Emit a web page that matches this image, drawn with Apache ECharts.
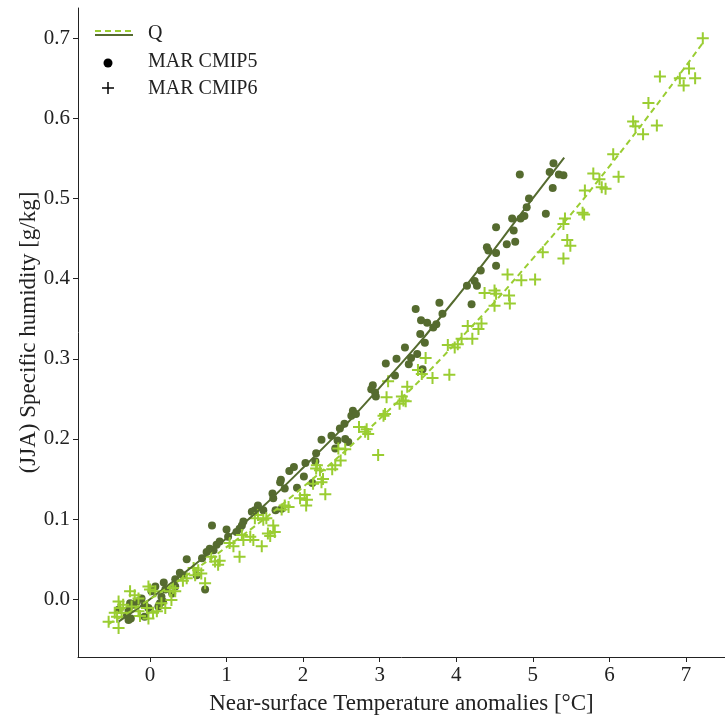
<!DOCTYPE html>
<html>
<head>
<meta charset="utf-8">
<script src="https://cdn.jsdelivr.net/npm/echarts@6/dist/echarts.min.js"></script>
<style>
  html, body { margin: 0; padding: 0; background: #fff; }
  #chart { width: 725px; height: 720px; }
</style>
</head>
<body>
<div id="chart"></div>
<script>
// Near-surface temperature anomaly (°C) vs JJA specific humidity anomaly (g/kg)

// MAR forced by CMIP5 models
const cmip5T = [5.27,4.83,5.22,5.34,5.40,5.26,4.95,4.92,5.17,4.73,4.84,4.89,4.52,4.75,4.40,4.42,4.66,4.77,4.52,4.52,4.32,4.14,4.24,4.27,4.20,
  3.78,3.47,3.82,3.54,3.62,3.74,3.70,3.53,3.59,3.33,3.49,3.41,3.22,3.08,3.38,3.56,3.20,2.91,2.89,2.94,2.95,2.65,2.63,2.69,2.54,2.48,2.37,2.45,2.55,2.59,2.42,
  2.24,2.17,1.82,1.88,2.03,2.16,2.01,1.71,1.70,1.76,1.92,2.12,1.60,1.61,1.41,1.37,1.33,1.48,1.64,1.72,1.22,1.20,0.81,1.00,1.17,1.13,1.02,0.91,0.87,0.78,0.83,0.74,
  0.48,0.68,0.39,0.43,0.33,0.18,0.61,0.72,0.07,0.02,0.20,0.15,0.17,0.29,0.33,-0.11,-0.17,-0.22,-0.26,-0.28,-0.30,-0.25,-0.28,-0.07,0.11,0.13,-0.02,-0.07,-0.41];
const cmip5Q = [0.544,0.530,0.533,0.530,0.529,0.513,0.500,0.489,0.481,0.475,0.475,0.478,0.464,0.460,0.439,0.435,0.443,0.446,0.432,0.416,0.410,0.391,0.397,0.391,0.368,
  0.370,0.362,0.356,0.348,0.345,0.343,0.339,0.331,0.320,0.314,0.306,0.301,0.300,0.294,0.293,0.287,0.279,0.267,0.262,0.258,0.253,0.235,0.229,0.231,0.219,0.213,0.204,0.198,0.200,0.196,0.188,
  0.199,0.182,0.160,0.165,0.170,0.172,0.153,0.149,0.146,0.138,0.139,0.145,0.132,0.126,0.117,0.111,0.109,0.111,0.111,0.113,0.097,0.092,0.092,0.087,0.088,0.084,0.078,0.072,0.068,0.063,0.061,0.059,
  0.050,0.051,0.033,0.030,0.025,0.021,0.030,0.012,0.016,0.010,0.012,0.003,-0.003,0.007,0.016,0.001,-0.003,-0.007,-0.005,-0.013,-0.020,-0.024,-0.026,-0.022,-0.009,-0.005,-0.011,-0.007,-0.013];

// MAR forced by CMIP6 models
const cmip6T = [7.22,6.66,7.04,6.92,7.12,6.97,6.51,6.31,6.34,6.62,6.44,6.05,5.79,5.87,6.12,5.90,5.95,5.68,5.65,5.67,5.42,5.40,5.45,5.49,5.13,5.40,
  4.67,4.85,5.03,4.37,4.50,4.52,4.69,4.70,4.50,4.15,4.33,4.29,4.21,4.07,4.02,3.89,3.98,3.60,3.91,3.50,3.55,3.69,3.11,3.36,3.09,3.29,3.31,3.26,3.34,3.05,3.07,
  2.73,2.83,2.85,2.81,2.46,2.55,2.98,2.49,2.42,2.38,2.18,2.22,2.17,2.26,2.24,2.13,2.29,1.96,2.02,2.05,2.04,1.81,1.72,1.76,1.52,1.48,1.37,1.41,1.61,1.63,1.54,1.57,1.46,
  1.31,1.35,1.20,1.22,1.09,1.04,1.17,0.80,0.85,0.91,0.89,0.72,0.57,0.63,0.59,0.67,0.48,0.43,0.30,0.26,0.33,-0.02,0.00,0.07,-0.26,-0.20,-0.15,
  -0.41,-0.35,-0.39,-0.46,-0.37,-0.43,-0.24,-0.15,-0.13,-0.04,0.04,0.09,-0.02,-0.54,-0.41,0.15,0.20,0.28];
const cmip6Q = [0.700,0.652,0.662,0.650,0.650,0.641,0.619,0.596,0.590,0.591,0.580,0.555,0.531,0.524,0.527,0.514,0.512,0.510,0.482,0.480,0.475,0.468,0.448,0.441,0.433,0.425,
  0.405,0.398,0.399,0.382,0.385,0.381,0.379,0.369,0.366,0.341,0.344,0.337,0.325,0.325,0.318,0.317,0.314,0.301,0.280,0.286,0.281,0.276,0.272,0.265,0.252,0.253,0.248,0.244,0.247,0.229,0.231,
  0.215,0.212,0.206,0.209,0.188,0.187,0.180,0.173,0.167,0.162,0.167,0.161,0.163,0.150,0.146,0.144,0.131,0.126,0.130,0.124,0.117,0.115,0.112,0.117,0.101,0.099,0.101,0.105,0.092,0.084,0.082,0.079,0.066,
  0.078,0.074,0.080,0.074,0.066,0.070,0.053,0.053,0.047,0.048,0.043,0.020,0.039,0.036,0.030,0.032,0.026,0.023,0.014,0.010,0.010,0.016,0.012,0.010,0.010,0.005,0.001,
  -0.003,-0.007,-0.011,-0.017,-0.017,-0.022,-0.009,-0.015,-0.021,-0.011,-0.017,-0.015,-0.024,-0.028,-0.036,-0.005,-0.011,-0.001];

// Fitted Q curves
const fit5T = [-0.41, 0, 1, 2, 3, 4, 5, 5.41];
const fit5Q = [-0.028, 0.0, 0.076, 0.164, 0.264, 0.376, 0.500, 0.551];
const fit6T = [-0.54, 0, 1, 2, 3, 4, 5, 6, 7.22];
const fit6Q = [-0.031, 0.0, 0.065, 0.140, 0.225, 0.320, 0.425, 0.540, 0.694];

// Tick labels
const xTicks = [0, 1, 2, 3, 4, 5, 6, 7];
const yTicks = [0.0, 0.1, 0.2, 0.3, 0.4, 0.5, 0.6, 0.7];

const DARK = '#556b2f';
const LIGHT = '#9acd32';
const FONT = '"Liberation Serif", "DejaVu Serif", serif';
const PLUS = 'path://M0,6H12M6,0V12';

const zip = (a, b) => a.map((v, i) => [v, b[i]]);

const chart = echarts.init(document.getElementById('chart'), null, { renderer: 'canvas' });

const axisCommon = {
  axisLine: { show: true, onZero: false, lineStyle: { color: '#222', width: 1 } },
  axisTick: { show: true, inside: false, length: 5, lineStyle: { color: '#222', width: 1 } },
  splitLine: { show: false },
  nameLocation: 'middle',
  nameMoveOverlap: false,
  nameTextStyle: { fontFamily: FONT, fontSize: 23, color: '#222' }
};

chart.setOption({
  animation: false,
  backgroundColor: '#fff',
  grid: { left: 78, right: 0, top: 8, bottom: 61, containLabel: false },
  xAxis: Object.assign({}, axisCommon, {
    type: 'value',
    min: -0.94,
    max: 7.51,
    name: 'Near-surface Temperature anomalies [°C]',
    nameGap: 35,
    axisTick: Object.assign({}, axisCommon.axisTick, { customValues: xTicks }),
    axisLabel: {
      customValues: xTicks, margin: 8,
      fontFamily: FONT, fontSize: 21, color: '#222',
      formatter: v => String(v)
    }
  }),
  yAxis: Object.assign({}, axisCommon, {
    type: 'value',
    min: -0.0721,
    max: 0.7376,
    name: '(JJA) Specific humidity [g/kg]',
    nameGap: 38,
    axisTick: Object.assign({}, axisCommon.axisTick, { customValues: yTicks }),
    axisLabel: {
      customValues: yTicks, margin: 8,
      fontFamily: FONT, fontSize: 21, color: '#222',
      formatter: v => v.toFixed(1)
    }
  }),
  series: [
    {
      name: 'MAR CMIP5', type: 'scatter',
      data: zip(cmip5T, cmip5Q),
      symbol: 'circle', symbolSize: 8,
      itemStyle: { color: DARK, opacity: 1 },
      z: 2
    },
    {
      name: 'MAR CMIP6', type: 'scatter',
      data: zip(cmip6T, cmip6Q),
      symbol: PLUS, symbolSize: 12,
      itemStyle: { color: 'none', borderColor: LIGHT, borderWidth: 2, opacity: 1 },
      z: 3
    },
    {
      name: 'Q CMIP5', type: 'line',
      data: zip(fit5T, fit5Q),
      smooth: true, showSymbol: false,
      lineStyle: { color: DARK, width: 2 },
      z: 4
    },
    {
      name: 'Q CMIP6', type: 'line',
      data: zip(fit6T, fit6Q),
      smooth: true, showSymbol: false,
      lineStyle: { color: LIGHT, width: 2, type: [6, 4] },
      z: 4
    }
  ],
  graphic: [
    // legend: Q (both fitted curves)
    { type: 'line', shape: { x1: 95, y1: 31, x2: 133, y2: 31 }, style: { stroke: LIGHT, lineWidth: 2, lineDash: [6, 4] } },
    { type: 'line', shape: { x1: 95, y1: 35, x2: 133, y2: 35 }, style: { stroke: DARK, lineWidth: 2 } },
    { type: 'text', x: 148, y: 34, style: { text: 'Q', font: '20px ' + FONT, fill: '#222', verticalAlign: 'middle' } },
    // legend: MAR CMIP5
    { type: 'circle', shape: { cx: 108, cy: 63, r: 4.5 }, style: { fill: '#000' } },
    { type: 'text', x: 148, y: 62, style: { text: 'MAR CMIP5', font: '20px ' + FONT, fill: '#222', verticalAlign: 'middle' } },
    // legend: MAR CMIP6
    { type: 'line', shape: { x1: 102, y1: 88, x2: 114, y2: 88 }, style: { stroke: '#000', lineWidth: 1.5 } },
    { type: 'line', shape: { x1: 108, y1: 82, x2: 108, y2: 94 }, style: { stroke: '#000', lineWidth: 1.5 } },
    { type: 'text', x: 148, y: 89, style: { text: 'MAR CMIP6', font: '20px ' + FONT, fill: '#222', verticalAlign: 'middle' } }
  ]
});
</script>
</body>
</html>
